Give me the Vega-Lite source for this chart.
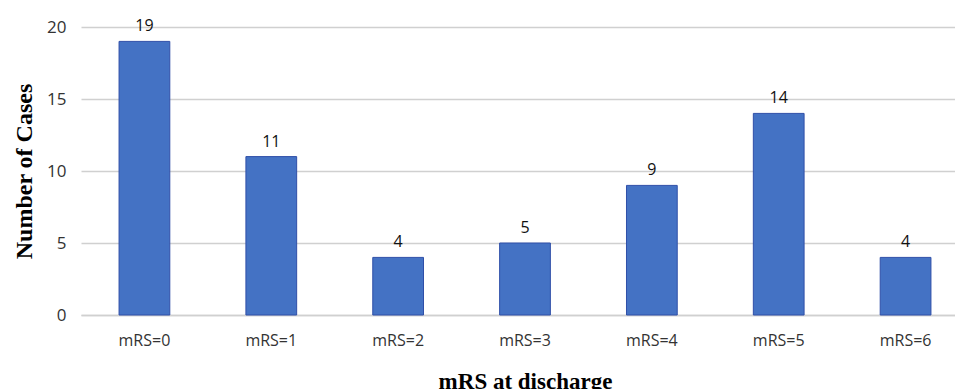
{
  "$schema": "https://vega.github.io/schema/vega-lite/v6.json",
  "autosize": "none",
  "padding": {"left": 81, "top": 27, "right": 0, "bottom": 74},
  "width": 888,
  "height": 288,
  "background": "white",
  "config": {"view": {"stroke": null}},
  "data": {"values": [
    {"category": "mRS=0", "cases": 19},
    {"category": "mRS=1", "cases": 11},
    {"category": "mRS=2", "cases": 4},
    {"category": "mRS=3", "cases": 5},
    {"category": "mRS=4", "cases": 9},
    {"category": "mRS=5", "cases": 14},
    {"category": "mRS=6", "cases": 4}
  ]},
  "encoding": {
    "x": {"field": "category", "type": "nominal", "sort": null,
      "scale": {"paddingInner": 0.6, "paddingOuter": 0.3},
      "axis": {"title": "mRS at discharge", "labelAngle": 0, "labelFont": "Open Sans", "labelFontSize": 16, "labelColor": "#333333",
        "labelPadding": 17, "ticks": false, "domain": true, "domainColor": "#d0d0d0", "domainWidth": 1.5,
        "titleFont": "Liberation Serif", "titleFontSize": 23, "titleFontWeight": "bold", "titleColor": "#000000", "titlePadding": 22}},
    "y": {"field": "cases", "type": "quantitative",
      "scale": {"domain": [0, 20]},
      "axis": {"title": "Number of Cases", "values": [0, 5, 10, 15, 20], "labelFont": "Open Sans", "labelFontSize": 17, "labelColor": "#333333",
        "labelPadding": 15, "ticks": false, "domain": false, "gridColor": "#d0d0d0", "gridWidth": 1.5,
        "titleFont": "Liberation Serif", "titleFontSize": 24, "titleFontWeight": "bold", "titleColor": "#000000", "titlePadding": 10}}
  },
  "layer": [
    {"mark": {"type": "bar", "color": "#4472C4", "stroke": "#2F4FA8", "strokeWidth": 1}},
    {"mark": {"type": "text", "dy": -15, "font": "Open Sans", "fontSize": 16, "color": "#111111"},
     "encoding": {"text": {"field": "cases", "type": "quantitative"}}}
  ]
}
